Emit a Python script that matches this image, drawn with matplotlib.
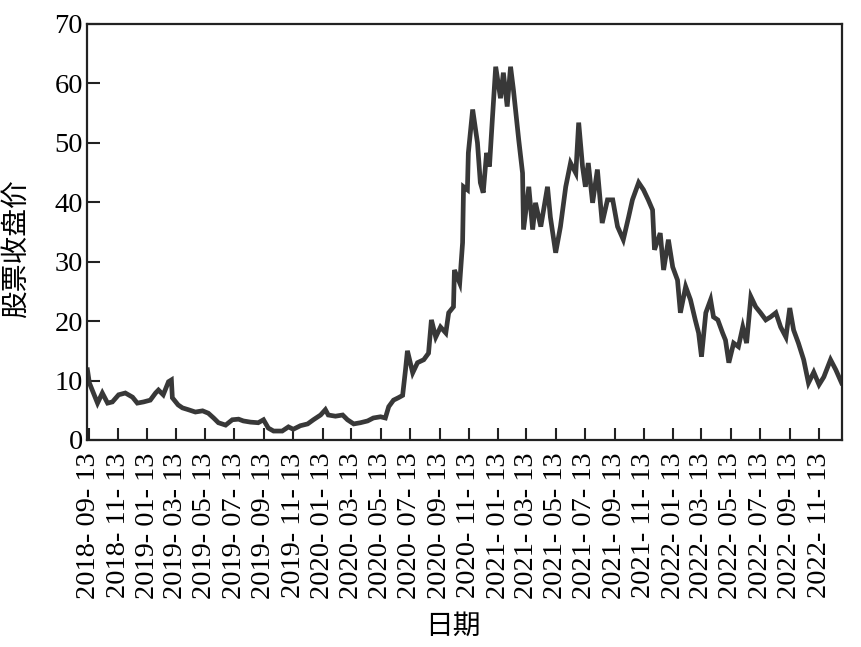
import matplotlib
matplotlib.use("Agg")
import matplotlib.pyplot as plt
import pandas as pd

plt.rcParams['font.family'] = ['Liberation Serif', 'Noto Sans CJK SC']
plt.rcParams['axes.unicode_minus'] = False

# closing price
dates = [
    "2018-09-10", "2018-09-14", "2018-09-20", "2018-10-01", "2018-10-11", "2018-10-22",
    "2018-11-01", "2018-11-14", "2018-11-28", "2018-12-13", "2018-12-23", "2019-01-05",
    "2019-01-19", "2019-01-30", "2019-02-05", "2019-02-15", "2019-02-26", "2019-03-04",
    "2019-03-06", "2019-03-18", "2019-03-27", "2019-04-08", "2019-04-23", "2019-05-08",
    "2019-05-20", "2019-05-31", "2019-06-10", "2019-06-25", "2019-07-09", "2019-07-22",
    "2019-08-01", "2019-08-16", "2019-09-01", "2019-09-12", "2019-09-22", "2019-10-03",
    "2019-10-21", "2019-11-03", "2019-11-13", "2019-11-28", "2019-12-13", "2019-12-25",
    "2020-01-09", "2020-01-19", "2020-01-25", "2020-02-09", "2020-02-24", "2020-03-05",
    "2020-03-18", "2020-04-01", "2020-04-16", "2020-04-28", "2020-05-13", "2020-05-23",
    "2020-05-30", "2020-06-09", "2020-06-19", "2020-06-28", "2020-07-04", "2020-07-08",
    "2020-07-19", "2020-07-29", "2020-08-11", "2020-08-21", "2020-08-27", "2020-09-05",
    "2020-09-15", "2020-09-26", "2020-10-02", "2020-10-12", "2020-10-14", "2020-10-25",
    "2020-10-31", "2020-11-02", "2020-11-10", "2020-11-12", "2020-11-21", "2020-12-01",
    "2020-12-07", "2020-12-13", "2020-12-20", "2020-12-26", "2021-01-01", "2021-01-08",
    "2021-01-18", "2021-01-24", "2021-02-01", "2021-02-08", "2021-02-14", "2021-02-25",
    "2021-03-05", "2021-03-07", "2021-03-18", "2021-03-26", "2021-04-01", "2021-04-12",
    "2021-04-26", "2021-05-02", "2021-05-13", "2021-05-23", "2021-06-03", "2021-06-13",
    "2021-06-24", "2021-06-30", "2021-07-08", "2021-07-14", "2021-07-20", "2021-07-29",
    "2021-08-08", "2021-08-18", "2021-08-29", "2021-09-09", "2021-09-19", "2021-10-01",
    "2021-10-12", "2021-10-20", "2021-11-02", "2021-11-12", "2021-11-22", "2021-12-01",
    "2021-12-05", "2021-12-17", "2021-12-24", "2022-01-03", "2022-01-12", "2022-01-22",
    "2022-01-28", "2022-02-08", "2022-02-18", "2022-02-28", "2022-03-07", "2022-03-13",
    "2022-03-22", "2022-04-01", "2022-04-07", "2022-04-16", "2022-04-26", "2022-05-02",
    "2022-05-09", "2022-05-19", "2022-05-29", "2022-06-07", "2022-06-15", "2022-06-24",
    "2022-07-04", "2022-07-14", "2022-07-25", "2022-08-04", "2022-08-15", "2022-08-25",
    "2022-09-05", "2022-09-13", "2022-09-21", "2022-10-01", "2022-10-12", "2022-10-22",
    "2022-11-02", "2022-11-13", "2022-11-23", "2022-12-07", "2022-12-18", "2022-12-30",
]
close = [
    11.8, 9.6, 8.4, 6.2, 7.9, 6.2,
    6.4, 7.6, 7.9, 7.2, 6.2, 6.4,
    6.7, 7.9, 8.4, 7.6, 9.8, 10.1,
    7.1, 5.9, 5.4, 5.1, 4.7, 4.9,
    4.5, 3.7, 2.9, 2.5, 3.4, 3.5,
    3.2, 3.0, 2.9, 3.4, 2.0, 1.5,
    1.5, 2.2, 1.8, 2.4, 2.7, 3.4,
    4.2, 5.1, 4.2, 4.0, 4.2, 3.4,
    2.7, 2.9, 3.2, 3.7, 3.9, 3.7,
    5.6, 6.7, 7.1, 7.5, 11.8, 15.0,
    11.3, 13.0, 13.5, 14.6, 20.2, 17.3,
    19.0, 18.0, 21.4, 22.4, 28.6, 26.4,
    33.2, 42.6, 42.1, 48.3, 55.6, 50.0,
    43.3, 41.6, 48.3, 46.0, 53.9, 62.8,
    57.5, 61.8, 56.1, 62.8, 58.9, 50.5,
    44.9, 35.4, 42.6, 35.4, 39.9, 35.9,
    42.6, 37.5, 31.5, 35.9, 42.6, 46.6,
    44.9, 53.4, 46.0, 42.6, 46.6, 39.9,
    45.5, 36.5, 40.4, 40.4, 35.9, 33.7,
    37.5, 40.4, 43.3, 42.1, 40.4, 38.7,
    32.0, 34.8, 28.6, 33.7, 29.1, 26.9,
    21.4, 25.8, 23.6, 20.2, 18.0, 14.0,
    21.4, 23.6, 20.7, 20.2, 18.0, 16.8,
    13.0, 16.3, 15.7, 19.0, 16.3, 24.1,
    22.4, 21.4, 20.2, 20.7, 21.4, 19.0,
    17.3, 22.2, 18.5, 16.3, 13.5, 9.6,
    11.4, 9.3, 10.6, 13.5, 11.8, 9.6,
]

tick_dates = pd.date_range("2018-09-13", "2022-11-13", freq=pd.DateOffset(months=2))
tick_labels = [d.strftime("%Y- %m- %d") for d in tick_dates]

x = pd.to_datetime(dates)

fig = plt.figure(figsize=(8.61, 6.47), dpi=100)
ax = fig.add_axes([0.101, 0.320, 0.877, 0.643])
ax.plot(x, close, color="#383838", linewidth=3.4, solid_joinstyle="miter")

ax.set_xlim(pd.Timestamp("2018-09-09"), pd.Timestamp("2022-12-31"))
ax.set_ylim(0, 70)
ax.set_xticks(tick_dates)
ax.set_xticklabels(tick_labels, rotation=90, fontsize=20.5)
ax.set_yticks(range(0, 71, 10))
ax.tick_params(axis="y", labelsize=20.5, pad=3)
ax.tick_params(axis="x", pad=9)
ax.tick_params(direction="in", length=9, width=1.5, color="#222222")

for s in ax.spines.values():
    s.set_linewidth(1.6)
    s.set_color("#222222")

ax.set_ylabel("股票收盘价", fontsize=20)
ax.yaxis.set_label_coords(-0.076, 0.46)
ax.set_xlabel("日期", fontsize=20)
ax.xaxis.set_label_coords(0.484, -0.421)

fig.savefig("out.png", dpi=100)
